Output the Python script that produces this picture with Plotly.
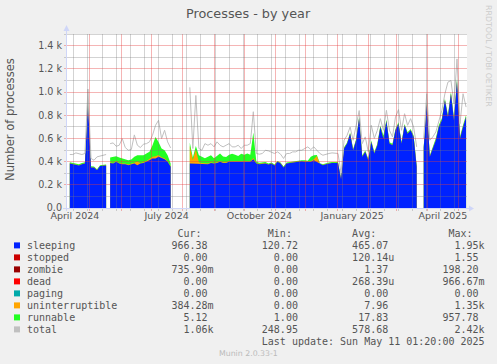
import math
import plotly.graph_objects as go
import pandas as pd

# ---------------- data ----------------
seg_starts = ["2024-04-11", "2024-05-21", "2024-08-08", "2025-03-28"]
step = "3D"

sleeping = [
    [384, 378, 369, 367, 378, 384, 913, 350, 349, 326, 361, 367, 367],
    [389, 384, 398, 384, 378, 378, 369, 378, 384, 369, 384, 389, 398, 412, 427, 427, 441, 427, 420, 398, 355],
    [384, 384, 384, 384, 384, 384, 378, 389, 384, 389, 398, 389, 389, 398, 398, 398, 398, 398, 398, 404,
     398, 420, 384, 378, 378, 384, 375, 384, 367, 398, 384, 349, 384, 389, 389, 398, 398, 404, 398, 398,
     398, 412, 398, 378, 369, 378, 384, 389, 389, 389, 250, 513, 555, 641, 498, 584, 780, 441, 484, 412,
     570, 470, 541, 700, 598, 750, 555, 541, 670, 727, 555, 713, 641, 670, 613, 355],
    [520, 900, 441, 513, 584, 698, 756, 928, 784, 985, 756, 1099, 600, 698, 784],
]
uninterruptible = [
    [2, 2, 2, 2, 2, 2, 5, 2, 2, 2, 2, 2, 2],
    [5, 5, 5, 5, 5, 5, 5, 5, 10, 30, 5, 5, 8, 10, 15, 20, 15, 10, 8, 5, 5],
    [150, 30, 120, 10, 5, 5, 5, 5, 5, 5, 5, 5, 5, 5, 5, 5, 5, 5, 5, 5,
     5, 10, 3, 3, 3, 3, 2, 2, 2, 2, 2, 2, 2, 2, 2, 2, 2, 2, 2, 2,
     5, 8, 50, 2, 2, 2, 2, 2, 2, 2, 1, 2, 2, 2, 2, 2, 2, 2, 2, 2,
     2, 2, 2, 2, 2, 2, 2, 2, 2, 2, 2, 2, 2, 2, 2, 2],
    [2, 2, 2, 2, 2, 2, 2, 2, 2, 2, 2, 2, 2, 2, 2],
]
runnable = [
    [8, 8, 8, 8, 8, 8, 20, 8, 6, 6, 6, 6, 6],
    [41, 52, 44, 46, 44, 38, 38, 35, 47, 56, 66, 61, 64, 62, 99, 166, 114, 76, 70, 52, 24],
    [30, 20, 30, 60, 52, 40, 58, 60, 40, 60, 67, 50, 45, 55, 65, 55, 45, 65, 55, 60,
     55, 220, 12, 10, 10, 10, 6, 6, 6, 6, 6, 6, 6, 6, 6, 6, 6, 6, 12, 8,
     38, 35, 8, 6, 6, 6, 6, 6, 6, 6, 4, 8, 8, 8, 8, 8, 8, 10, 10, 10,
     10, 10, 10, 10, 25, 10, 10, 10, 10, 10, 10, 10, 10, 10, 10, 10],
    [10, 10, 10, 20, 15, 15, 15, 15, 15, 15, 15, 15, 15, 15, 15],
]
total = [
    [461, 461, 475, 470, 461, 470, 1025, 427, 412, 441, 447, 455, 461],
    [555, 561, 532, 541, 598, 521, 498, 504, 630, 541, 521, 550, 555, 570, 627, 713, 756, 598, 670, 570, 518],
    [1040, 513, 970, 513, 498, 555, 541, 555, 527, 570, 541, 527, 541, 555, 527, 527, 541, 513, 541, 541,
     555, 830, 470, 464, 470, 498, 492, 484, 470, 484, 464, 427, 470, 470, 484, 484, 498, 498, 513, 527,
     504, 527, 498, 470, 455, 464, 470, 475, 475, 470, 300, 584, 627, 698, 584, 713, 840, 555, 613, 484,
     713, 600, 670, 770, 670, 842, 670, 613, 784, 848, 670, 813, 713, 770, 698, 527],
    [600, 985, 584, 613, 655, 756, 842, 985, 1085, 1099, 899, 1285, 727, 985, 870],
]

y_tickvals = [0, 200, 400, 600, 800, 1000, 1200, 1400]
y_ticktext = ["0.0", "0.2 k", "0.4 k", "0.6 k", "0.8 k", "1.0 k", "1.2 k", "1.4 k"]
x_ticktext = ["April 2024", "July 2024", "October 2024", "January 2025", "April 2025"]
x_label_months = ["2024-04-01", "2024-07-01", "2024-10-01", "2025-01-01", "2025-04-01"]

legend_names = ["sleeping", "stopped", "zombie", "dead", "paging", "uninterruptible", "runnable", "total"]
legend_colors = ["#0022ff", "#cc0000", "#990000", "#ff0000", "#00aaaa", "#ffa500", "#22ff22", "#c0c0c0"]
cur_vals = ["966.38", "0.00", "735.90m", "0.00", "0.00", "384.28m", "5.12", "1.06k"]
min_vals = ["120.72", "0.00", "0.00", "0.00", "0.00", "0.00", "1.00", "248.95"]
avg_vals = ["465.07", "120.14u", "1.37", "268.39u", "0.00", "7.96", "17.83", "578.68"]
max_vals = ["1.95k", "1.55", "198.20", "966.67m", "0.00", "1.35k", "957.78", "2.42k"]

# ---------------- geometry helpers ----------------
W, H = 497, 364
L, R, T, B = 67, 467, 34, 208
x_range = [pd.Timestamp("2024-04-08 05:00"), pd.Timestamp("2025-05-09 22:00")]
y_max = 1500
span = x_range[1] - x_range[0]


def px(x):
    return (x - L) / (R - L)


def py(y):
    return (B - y) / (B - T)


def value_pixel(v):
    return B - v / y_max * (B - T)


def snap(p):
    return math.floor(p) + 0.5


def snapped_date(d):
    p = L + (pd.Timestamp(d) - x_range[0]) / span * (R - L)
    return x_range[0] + span * ((snap(p) - L) / (R - L))


fig = go.Figure()

blue, orange, green, grey = legend_colors[0], legend_colors[5], legend_colors[6], legend_colors[7]

for start, s, u, r, t in zip(seg_starts, sleeping, uninterruptible, runnable, total):
    d = pd.date_range(start, periods=len(s), freq=step)
    c1 = list(s)
    c2 = [a + b for a, b in zip(s, u)]
    c3 = [a + b for a, b in zip(c2, r)]
    for ys, col in ((c3, green), (c2, orange), (c1, blue)):
        fig.add_trace(go.Scatter(x=d, y=ys, mode="lines", line=dict(width=0, color=col),
                                 fill="tozeroy", fillcolor=col, showlegend=False, hoverinfo="skip"))
    fig.add_trace(go.Scatter(x=d, y=t, mode="lines", line=dict(width=1, color=grey),
                             showlegend=False, hoverinfo="skip"))

shapes = []
minor_col = "rgba(120,120,120,0.33)"
major_col = "rgba(230,60,60,0.38)"


def vline(d, col):
    ts = snapped_date(d).strftime("%Y-%m-%d %H:%M:%S.%f")
    shapes.append(dict(type="line", xref="x", yref="paper", x0=ts, x1=ts, y0=py(211), y1=1,
                       layer="above", line=dict(color=col, width=1)))


def hline(v, col):
    yp = py(snap(value_pixel(v)))
    shapes.append(dict(type="line", xref="paper", yref="paper", x0=px(64), x1=1, y0=yp, y1=yp,
                       layer="above", line=dict(color=col, width=1)))


for d in pd.date_range("2024-04-15", x_range[1], freq="14D"):
    vline(d, minor_col)
for d in pd.date_range("2024-05-01", x_range[1], freq="MS"):
    vline(d, major_col)
for v in range(100, y_max + 1, 100):
    hline(v, major_col if v % 200 == 0 else minor_col)

axis_col = "#cfd6f8"
shapes.append(dict(type="line", xref="paper", yref="paper", x0=px(63), x1=px(470), y0=py(208.5), y1=py(208.5),
                   layer="above", line=dict(color=axis_col, width=1)))
shapes.append(dict(type="line", xref="paper", yref="paper", x0=px(66.5), x1=px(66.5), y0=py(211), y1=py(29),
                   layer="above", line=dict(color=axis_col, width=1)))
shapes.append(dict(type="path", xref="paper", yref="paper", layer="above",
                   path=f"M {px(469)} {py(205.5)} L {px(474)} {py(208.5)} L {px(469)} {py(211.5)} Z",
                   fillcolor=axis_col, line=dict(width=0)))
shapes.append(dict(type="path", xref="paper", yref="paper", layer="above",
                   path=f"M {px(63.5)} {py(31)} L {px(66.5)} {py(25)} L {px(69.5)} {py(31)} Z",
                   fillcolor=axis_col, line=dict(width=0)))

annotations = []
txt = "#555555"


def note(text, x, y, size, color=txt, family="DejaVu Sans", angle=0, xanchor="center"):
    annotations.append(dict(text=text, x=px(x), y=py(y), xref="paper", yref="paper", showarrow=False,
                            xanchor=xanchor, yanchor="middle", textangle=angle,
                            font=dict(family=family, size=size, color=color)))


note("Processes - by year", 248, 14, 12.8)
note("Number of processes", 10, 120, 11.6, angle=-90)
note("RRDTOOL / TOBI OETIKER", 488, 56, 7.9, color="#cccccc", angle=90)

NB = "\u00a0"
x_text = 25.2


def cell(v):
    if v[-1] in "kmu":
        return v[:-1].rjust(6, NB) + v[-1]
    return v.rjust(6, NB) + NB


header = NB * 25 + "Cur:" + NB * 11 + "Min:" + NB * 10 + "Avg:" + NB * 12 + "Max:"
note(header, x_text, 233.3, 10, family="DejaVu Sans Mono", xanchor="left")
for k, name in enumerate(legend_names):
    yc = 245.7 + 12 * k
    row = name.ljust(24, NB) + cell(cur_vals[k]) + NB * 8 + cell(min_vals[k]) + NB * 8 + \
        cell(avg_vals[k]) + NB * 8 + cell(max_vals[k])
    note(row, x_text, yc, 10, family="DejaVu Sans Mono", xanchor="left")
    shapes.append(dict(type="rect", xref="paper", yref="paper", x0=px(14), x1=px(20),
                       y0=py(yc - 3.3), y1=py(yc + 2.7), fillcolor=legend_colors[k], line=dict(width=0)))
note(NB * 39 + "Last update: Sun May 11 01:20:00 2025", x_text, 341.7, 10, family="DejaVu Sans Mono",
     xanchor="left")
note("Munin 2.0.33-1", 248, 353.3, 7.8, color="#bbbbbb")

x_tickvals = [pd.Timestamp(m) + pd.Timedelta(days=15) for m in x_label_months]

fig.update_layout(
    width=W, height=H,
    margin=dict(l=L, r=W - R, t=T, b=H - B, pad=0),
    paper_bgcolor="#f0f0f0", plot_bgcolor="#ffffff",
    shapes=shapes, annotations=annotations, showlegend=False,
    xaxis=dict(type="date", range=x_range, tickvals=x_tickvals, ticktext=x_ticktext,
               showgrid=False, zeroline=False, showline=False, ticks="",
               tickfont=dict(family="DejaVu Sans", size=9.5, color=txt), fixedrange=True),
    yaxis=dict(range=[0, y_max], tickvals=y_tickvals, ticktext=y_ticktext,
               showgrid=False, zeroline=False, showline=False, ticks="", ticklabelstandoff=4,
               tickfont=dict(family="DejaVu Sans", size=9.6, color=txt), fixedrange=True),
)

fig.write_html("out.html", config={"displayModeBar": False},
               post_script="document.body.style.margin='0px';document.body.style.background='#f0f0f0';")
